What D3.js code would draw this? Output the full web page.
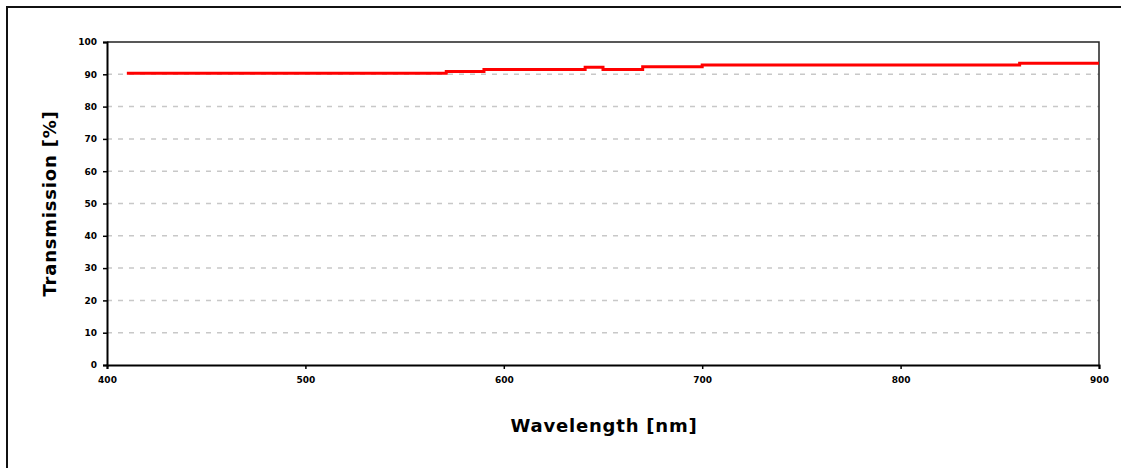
<html>
<head>
    <title>Transmission</title>
    <style>
        body {
            margin: 0;
            padding: 0;
            background-color: #ffffff;
            overflow: hidden;
        }

        .axis-label {
            font-family: "DejaVu Sans", sans-serif;
            font-weight: bold;
            font-size: 9px;
            fill: #000;
        }

        .title {
            font-family: "DejaVu Sans", sans-serif;
            font-weight: bold;
            font-size: 18px;
            letter-spacing: 0.8px;
            fill: #000;
        }

        .grid line {
            stroke: #c8c8c8;
            stroke-width: 1.5;
            stroke-dasharray: 5, 6;
        }
    </style>
</head>

<body>
    <div class="chart"></div>
    <script src="https://d3js.org/d3.v7.min.js"></script>
    <script>
        // step points (nm, %)
        const wavelengths = [410, 571, 590, 641, 650, 670, 700, 860, 900];
        const transmission = [90.3, 90.9, 91.5, 92.2, 91.5, 92.3, 92.9, 93.4, 93.4];

        const xTicks = [400, 500, 600, 700, 800, 900];
        const yTicks = [0, 10, 20, 30, 40, 50, 60, 70, 80, 90, 100];

        const W = 1121, H = 468;
        const margin = { top: 42, right: 22, bottom: 103, left: 107 };
        const width = W - margin.left - margin.right;
        const height = H - margin.top - margin.bottom;

        const svg = d3.select('.chart')
            .append('svg')
            .attr('width', W)
            .attr('height', H)
            .style('display', 'block');

        // outer frame: only top and left edges show
        svg.append('path')
            .attr('d', `M7,${H + 5}V7H${W + 5}`)
            .attr('fill', 'none')
            .attr('stroke', '#111')
            .attr('stroke-width', 2);

        const g = svg.append('g')
            .attr('transform', `translate(${margin.left},${margin.top})`);

        const xScale = d3.scaleLinear().domain([400, 900]).range([0, width]);
        const yScale = d3.scaleLinear().domain([0, 100]).range([height, 0]);

        // dashed grid
        g.append('g')
            .attr('class', 'grid')
            .selectAll('line')
            .data(yTicks.filter(d => d > 0 && d < 100))
            .enter()
            .append('line')
            .attr('x1', 0)
            .attr('x2', width)
            .attr('y1', d => yScale(d))
            .attr('y2', d => yScale(d));

        // top and right frame
        g.append('path')
            .attr('d', `M0,0H${width}V${height}`)
            .attr('fill', 'none')
            .attr('stroke', '#222')
            .attr('stroke-width', 1.5);

        const yAxis = d3.axisLeft(yScale).tickValues(yTicks).tickSize(4).tickPadding(6);
        const ya = g.append('g').call(yAxis);
        ya.select('.domain').attr('stroke', '#000').attr('stroke-width', 2);
        ya.selectAll('.tick line').attr('stroke', '#000').attr('stroke-width', 1.5);
        ya.selectAll('text').attr('class', 'axis-label').attr('font-family', null).attr('font-size', null);

        const xAxis = d3.axisBottom(xScale).tickValues(xTicks).tickSize(4).tickPadding(8);
        const xa = g.append('g')
            .attr('transform', `translate(0,${height})`)
            .call(xAxis);
        xa.select('.domain').attr('stroke', '#000').attr('stroke-width', 2);
        xa.selectAll('.tick line').attr('stroke', '#000').attr('stroke-width', 1.5);
        xa.selectAll('text').attr('class', 'axis-label').attr('font-family', null).attr('font-size', null);

        // the curve
        const line = d3.line()
            .x((d, i) => xScale(wavelengths[i]))
            .y(d => yScale(d))
            .curve(d3.curveStepAfter);

        g.append('path')
            .datum(transmission)
            .attr('d', line)
            .attr('fill', 'none')
            .attr('stroke', '#ff0000')
            .attr('stroke-width', 3);

        // titles
        svg.append('text')
            .attr('class', 'title')
            .attr('x', margin.left + width / 2 + 1)
            .attr('y', 432)
            .attr('text-anchor', 'middle')
            .text('Wavelength [nm]');

        svg.append('text')
            .attr('class', 'title')
            .attr('transform', `translate(56,${margin.top + height / 2}) rotate(-90)`)
            .attr('text-anchor', 'middle')
            .text('Transmission [%]');
    </script>
</body>
</html>
